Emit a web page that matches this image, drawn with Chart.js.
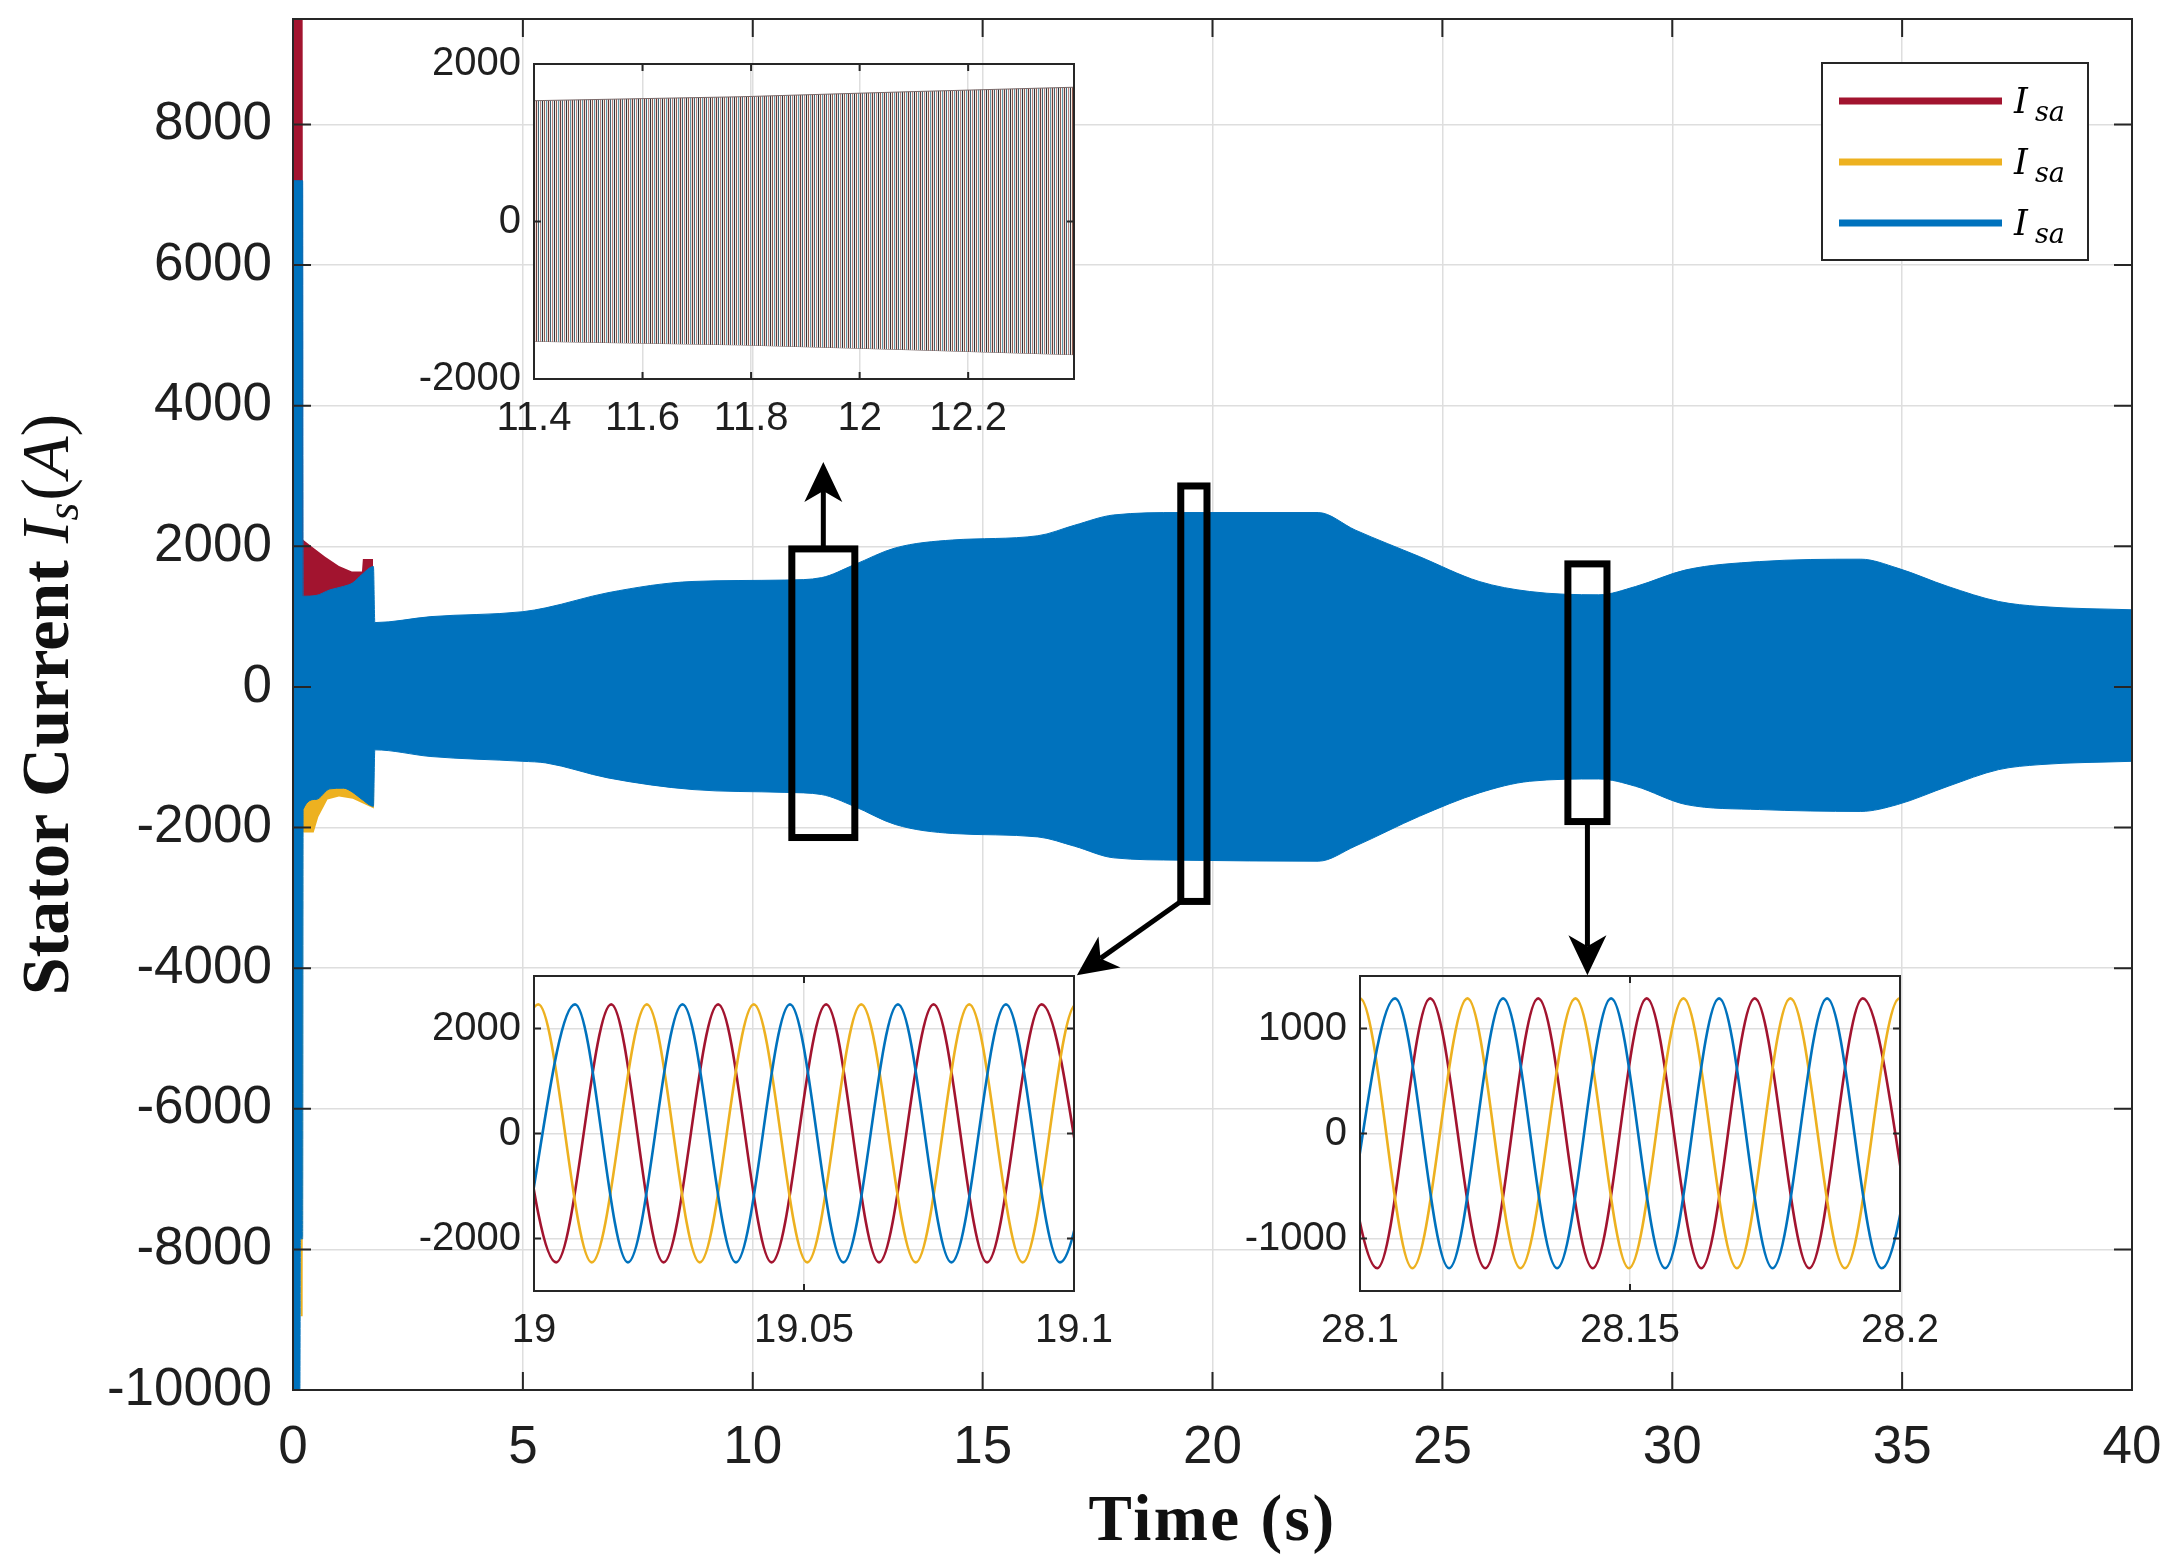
<!DOCTYPE html>
<html>
<head>
<meta charset="utf-8">
<script src="https://cdn.jsdelivr.net/npm/chart.js@4.4.1/dist/chart.umd.min.js"></script>
<style>
  html, body { margin: 0; padding: 0; background: #fff; }
  #wrap { position: relative; width: 2178px; height: 1566px; }
  canvas { position: absolute; }
</style>
</head>
<body>
<div id="wrap">
  <canvas id="mainChart" width="2178" height="1566" style="left:0;top:0"></canvas>
  <canvas id="zoomTop"></canvas>
  <canvas id="zoomMid"></canvas>
  <canvas id="zoomRight"></canvas>
</div>
<script>
// ---- main plot: envelope of the three phase currents (time in s, current in A)
const envTime   = [0, 0.15, 0.16, 0.21, 0.22, 0.5, 0.8, 1.1, 1.3, 1.5, 1.75, 1.78, 3, 5, 5.5, 6.85, 8.7, 10.7, 11.5, 12.2, 13.1, 14.35, 16.2, 17.0, 17.85, 19.3, 22.3, 23.1, 24.5, 25.8, 26.9, 28.4, 29.2, 30.3, 31.9, 34.1, 34.9, 36.0, 37.1, 38.0, 40];
const blueUpper = [7200, 7200, 7200, 7200, 1290, 1300, 1380, 1430, 1480, 1600, 1712, 915, 1000, 1070, 1125, 1340, 1500, 1520, 1555, 1736, 1977, 2090, 2150, 2300, 2446, 2480, 2480, 2233, 1854, 1500, 1357, 1310, 1428, 1665, 1783, 1817, 1690, 1428, 1215, 1144, 1097];
const blueLower = [-10000, -10000, -7850, -7850, -1742, -1600, -1450, -1440, -1500, -1600, -1697, -895, -990, -1058, -1081, -1294, -1460, -1500, -1531, -1697, -1957, -2085, -2133, -2266, -2431, -2464, -2479, -2266, -1840, -1508, -1342, -1309, -1413, -1673, -1744, -1771, -1673, -1413, -1176, -1105, -1058];

// parts of the other phases that stick out of the blue one during start-up
const redTime      = [0, 0.21, 0.22, 0.4, 0.7, 1.0, 1.28, 1.5, 1.52, 1.74, 1.75];
const redPeak      = [9500, 9500, 2095, 2000, 1850, 1720, 1640, 1640, 1820, 1820, 0];
const yellowTime   = [0.16, 0.21, 0.22, 0.45, 0.55, 0.75, 1.0, 1.3, 1.5, 1.76, 1.77];
const yellowTrough = [-8950, -8950, -2070, -2070, -1850, -1600, -1560, -1590, -1650, -1730, 0];

const timeTicks    = [0, 5, 10, 15, 20, 25, 30, 35, 40];
const currentTicks = [-10000, -8000, -6000, -4000, -2000, 0, 2000, 4000, 6000, 8000];

// zoomed windows marked on the main plot [t0, t1, low, high]
const boxT0   = [10.85, 19.31, 27.73];
const boxT1   = [12.22, 19.88, 28.58];
const boxLow  = [-2142, -3051, -1915];
const boxHigh = [1963, 2858, 1750];
// arrows [from t, from A, to t, to A]
const arrowFromT = [11.535, 19.31, 28.155];
const arrowFromV = [1963, -3051, -1915];
const arrowToT   = [11.535, 17.05, 28.155];
const arrowToV   = [3200, -4100, -4100];

// ---- inset 11.4 - 12.4 s (dense band)
const z1Time  = [11.4, 11.78, 12.1, 12.395];
const z1Upper = [1534, 1584, 1650, 1705];
const z1Lower = [-1521, -1567, -1630, -1691];
const z1XTicks = [11.4, 11.6, 11.8, 12, 12.2];
const z1YTicks = [-2000, 0, 2000];

// ---- inset 19 - 19.1 s : peaks / troughs of each phase
const z2RedT = [18.9943, 19.0041, 19.0143, 19.0240, 19.0341, 19.0440, 19.0541, 19.0639, 19.0740, 19.0839, 19.0940, 19.1039];
const z2RedV = [2460, -2455, 2460, -2455, 2460, -2455, 2460, -2455, 2460, -2455, 2460, -2455];
const z2YelT = [18.9907, 19.0008, 19.0107, 19.0209, 19.0307, 19.0407, 19.0506, 19.0606, 19.0707, 19.0806, 19.0905, 19.1004, 19.1105];
const z2YelV = [-2455, 2460, -2455, 2460, -2455, 2460, -2455, 2460, -2455, 2460, -2455, 2460, -2455];
const z2BluT = [18.9975, 19.0076, 19.0174, 19.0275, 19.0374, 19.0474, 19.0573, 19.0674, 19.0773, 19.0874, 19.0974, 19.1073];
const z2BluV = [-2455, 2460, -2455, 2460, -2455, 2460, -2455, 2460, -2455, 2460, -2455, 2460];
const z2XTicks = [19, 19.05, 19.1];
const z2YTicks = [-2000, 0, 2000];

// ---- inset 28.1 - 28.2 s
const z3RedT = [28.0931, 28.1032, 28.1130, 28.1232, 28.1330, 28.1431, 28.1531, 28.1632, 28.1731, 28.1832, 28.1931, 28.2032];
const z3RedV = [1287, -1283, 1287, -1283, 1287, -1283, 1287, -1283, 1287, -1283, 1287, -1283];
const z3YelT = [28.0899, 28.1000, 28.1097, 28.1199, 28.1297, 28.1399, 28.1498, 28.1599, 28.1698, 28.1797, 28.1898, 28.1999, 28.2098];
const z3YelV = [-1283, 1287, -1283, 1287, -1283, 1287, -1283, 1287, -1283, 1287, -1283, 1287, -1283];
const z3BluT = [28.0965, 28.1065, 28.1165, 28.1265, 28.1365, 28.1465, 28.1565, 28.1665, 28.1764, 28.1865, 28.1966, 28.2065];
const z3BluV = [-1283, 1287, -1283, 1287, -1283, 1287, -1283, 1287, -1283, 1287, -1283, 1287];
const z3XTicks = [28.1, 28.15, 28.2];
const z3YTicks = [-1000, 0, 1000];

const RED = '#A2142F', YELLOW = '#EDB120', BLUE = '#0072BD';
const gridColor = '#dedede';
const axisColor = '#262626';
const textColor = '#1f1f1f';
const sansFamily = '"Liberation Sans", Arial, sans-serif';
const serifFamily = '"Liberation Serif", "Times New Roman", serif';
const mathFamily = '"DejaVu Serif", serif';

const pts = (xs, ys) => xs.map((x, i) => ({x: x, y: ys[i]}));

// inward ticks + box, like matlab axes
function axesFrame(xTicks, yTicks, tickLen) {
  return {
    id: 'axesFrame',
    afterDatasetsDraw(chart) {
      const {ctx, chartArea: a, scales: {x, y}} = chart;
      ctx.save();
      ctx.strokeStyle = axisColor;
      ctx.lineWidth = 2;
      ctx.beginPath();
      xTicks.forEach(v => {
        const px = x.getPixelForValue(v);
        ctx.moveTo(px, a.bottom); ctx.lineTo(px, a.bottom - tickLen);
        ctx.moveTo(px, a.top); ctx.lineTo(px, a.top + tickLen);
      });
      yTicks.forEach(v => {
        const py = y.getPixelForValue(v);
        ctx.moveTo(a.left, py); ctx.lineTo(a.left + tickLen, py);
        ctx.moveTo(a.right, py); ctx.lineTo(a.right - tickLen, py);
      });
      ctx.stroke();
      ctx.strokeRect(a.left, a.top, a.right - a.left, a.bottom - a.top);
      ctx.restore();
    }
  };
}

function drawArrow(ctx, x0, y0, x1, y1) {
  const ang = Math.atan2(y1 - y0, x1 - x0);
  const L = 40, W = 19, notch = 11;
  ctx.beginPath();
  ctx.moveTo(x0, y0);
  ctx.lineTo(x1 - (L - notch) * Math.cos(ang), y1 - (L - notch) * Math.sin(ang));
  ctx.stroke();
  ctx.save();
  ctx.translate(x1, y1);
  ctx.rotate(ang);
  ctx.beginPath();
  ctx.moveTo(0, 0);
  ctx.lineTo(-L, -W);
  ctx.lineTo(-L + notch, 0);
  ctx.lineTo(-L, W);
  ctx.closePath();
  ctx.fill();
  ctx.restore();
}

// draws text pieces with different fonts one after another
function richText(ctx, parts, startX, baseY) {
  let xPos = startX;
  parts.forEach(p => {
    ctx.font = p.f;
    ctx.fillText(p.t, xPos, baseY + (p.dy || 0));
    xPos += ctx.measureText(p.t).width + (p.sp || 0);
  });
}
function richWidth(ctx, parts) {
  let w = 0;
  parts.forEach(p => { ctx.font = p.f; w += ctx.measureText(p.t).width + (p.sp || 0); });
  return w;
}

const annotations = {
  id: 'annotations',
  afterDraw(chart) {
    const {ctx, chartArea: a, scales: {x, y}} = chart;
    ctx.save();
    // zoom windows
    ctx.strokeStyle = '#000';
    ctx.lineWidth = 7;
    for (let i = 0; i < boxT0.length; i++) {
      const l = x.getPixelForValue(boxT0[i]), r = x.getPixelForValue(boxT1[i]);
      const t = y.getPixelForValue(boxHigh[i]), b = y.getPixelForValue(boxLow[i]);
      ctx.strokeRect(l, t, r - l, b - t);
    }
    ctx.lineWidth = 5;
    ctx.fillStyle = '#000';
    for (let i = 0; i < arrowFromT.length; i++) {
      drawArrow(ctx,
        x.getPixelForValue(arrowFromT[i]), y.getPixelForValue(arrowFromV[i]),
        x.getPixelForValue(arrowToT[i]), y.getPixelForValue(arrowToV[i]));
    }

    // legend
    const lx = a.right - 310, ly = a.top + 44, lw = 266, lh = 197;
    ctx.fillStyle = '#fff';
    ctx.fillRect(lx, ly, lw, lh);
    ctx.strokeStyle = axisColor;
    ctx.lineWidth = 2;
    ctx.strokeRect(lx, ly, lw, lh);
    [RED, YELLOW, BLUE].forEach((col, i) => {
      const yy = ly + 38 + i * 61;
      ctx.strokeStyle = col;
      ctx.lineWidth = 7;
      ctx.beginPath();
      ctx.moveTo(lx + 17, yy); ctx.lineTo(lx + 180, yy);
      ctx.stroke();
      ctx.fillStyle = '#000';
      ctx.textBaseline = 'alphabetic';
      ctx.textAlign = 'left';
      ctx.font = 'italic 35px ' + mathFamily;
      ctx.fillText('I', lx + 192, yy + 12);
      ctx.font = 'italic 27px ' + mathFamily;
      ctx.fillText('sa', lx + 213, yy + 20);
    });

    // axis titles
    ctx.fillStyle = '#111';
    ctx.textAlign = 'center';
    ctx.textBaseline = 'alphabetic';
    ctx.letterSpacing = '2.5px';
    ctx.font = 'bold 65px ' + serifFamily;
    ctx.fillText('Time (s)', (a.left + a.right) / 2, a.bottom + 150);
    ctx.letterSpacing = '0px';

    const yParts = [
      {t: 'Stator Current ', f: 'bold 68px ' + serifFamily},
      {t: 'I', f: 'italic 68px ' + serifFamily},
      {t: 's', f: 'italic 46px ' + serifFamily, dy: 10, sp: 2},
      {t: '(', f: '68px ' + serifFamily},
      {t: 'A', f: 'italic 68px ' + serifFamily},
      {t: ')', f: '68px ' + serifFamily}
    ];
    ctx.save();
    ctx.translate(68, (a.top + a.bottom) / 2);
    ctx.rotate(-Math.PI / 2);
    ctx.textAlign = 'left';
    richText(ctx, yParts, -richWidth(ctx, yParts) / 2, 0);
    ctx.restore();
    ctx.restore();
  }
};

const noBorder = 'rgba(0,0,0,0)';

new Chart(document.getElementById('mainChart'), {
  type: 'line',
  data: {
    datasets: [
      {label: 'Isa blue', data: pts(envTime, blueUpper), borderColor: BLUE, backgroundColor: BLUE, borderWidth: 1,
       pointRadius: 0, fill: '+1', cubicInterpolationMode: 'monotone', clip: 0},
      {label: 'Isa blue low', data: pts(envTime, blueLower), borderColor: BLUE, borderWidth: 1,
       pointRadius: 0, fill: false, cubicInterpolationMode: 'monotone', clip: 0},
      {label: 'Isa red', data: pts(redTime, redPeak), borderColor: noBorder, backgroundColor: RED, borderWidth: 0,
       pointRadius: 0, fill: 'origin', clip: 0},
      {label: 'Isa yellow', data: pts(yellowTime, yellowTrough), borderColor: noBorder, backgroundColor: YELLOW, borderWidth: 0,
       pointRadius: 0, fill: 'origin', clip: 0}
    ]
  },
  options: {
    animation: false,
    responsive: false,
    devicePixelRatio: 1,
    events: [],
    layout: {padding: {left: 0, top: 19, right: 46, bottom: 0}},
    plugins: {legend: {display: false}, tooltip: {enabled: false}},
    scales: {
      x: {
        type: 'linear', min: 0, max: 40,
        afterBuildTicks: s => { s.ticks = timeTicks.map(v => ({value: v})); },
        afterFit: s => { s.height = 176; s.paddingLeft = 0; s.paddingRight = 0; },
        grid: {color: gridColor, lineWidth: 1.5, drawTicks: false},
        border: {display: false},
        ticks: {font: {family: sansFamily, size: 53}, color: textColor, padding: 27,
                maxRotation: 0, autoSkip: false, callback: v => String(v)}
      },
      y: {
        type: 'linear', min: -10000, max: 9500,
        afterBuildTicks: s => { s.ticks = currentTicks.map(v => ({value: v})); },
        afterFit: s => { s.width = 293; s.paddingTop = 0; s.paddingBottom = 0; },
        grid: {color: gridColor, lineWidth: 1.5, drawTicks: false},
        border: {display: false},
        ticks: {font: {family: sansFamily, size: 53}, color: textColor, padding: 21,
                autoSkip: false, callback: v => String(v)}
      }
    }
  },
  plugins: [axesFrame(timeTicks, currentTicks, 18), annotations]
});

// ---- insets
function zoomChart(id, box, xMin, xMax, xTicks, yMin, yMax, yTicks, datasets) {
  const m = {l: 130, t: 30, r: 50, b: 70};
  const cv = document.getElementById(id);
  cv.width = box.w + m.l + m.r;
  cv.height = box.h + m.t + m.b;
  cv.style.left = (box.x - m.l) + 'px';
  cv.style.top = (box.y - m.t) + 'px';
  return new Chart(cv, {
    type: 'line',
    data: {datasets: datasets},
    options: {
      animation: false,
      responsive: false,
      devicePixelRatio: 1,
      events: [],
      layout: {padding: {left: 0, top: m.t, right: m.r, bottom: 0}},
      plugins: {legend: {display: false}, tooltip: {enabled: false}},
      scales: {
        x: {
          type: 'linear', min: xMin, max: xMax,
          afterBuildTicks: s => { s.ticks = xTicks.map(v => ({value: v})); },
          afterFit: s => { s.height = m.b; s.paddingLeft = 0; s.paddingRight = 0; },
          grid: {color: gridColor, lineWidth: 1.5, drawTicks: false},
          border: {display: false},
          ticks: {font: {family: sansFamily, size: 40}, color: textColor, padding: 16,
                  maxRotation: 0, autoSkip: false, callback: v => String(v)}
        },
        y: {
          type: 'linear', min: yMin, max: yMax,
          afterBuildTicks: s => { s.ticks = yTicks.map(v => ({value: v})); },
          afterFit: s => { s.width = m.l; s.paddingTop = 0; s.paddingBottom = 0; },
          grid: {color: gridColor, lineWidth: 1.5, drawTicks: false},
          border: {display: false},
          ticks: {font: {family: sansFamily, size: 40}, color: textColor, padding: 13,
                  autoSkip: false, callback: v => String(v)}
        }
      }
    },
    plugins: [axesFrame(xTicks, yTicks, 7)]
  });
}

function phase(label, t, v, col) {
  return {label: label, data: pts(t, v), borderColor: col, borderWidth: 2.6, pointRadius: 0,
          fill: false, cubicInterpolationMode: 'monotone', clip: 0};
}

// thin washed-out stripes, imitating many overlapping 50 Hz cycles
function densePattern(ctx) {
  const cols = ['#6e3c3a', '#efe2dc', '#3f6675', '#fbfbfb', '#b8817c', '#dcefF2',
                '#2f3640', '#f4eadf', '#8f5a50', '#f8f8f8', '#5f98a8', '#eadbd6'];
  const c = document.createElement('canvas');
  c.width = cols.length; c.height = 2;
  const g = c.getContext('2d');
  cols.forEach((col, i) => { g.fillStyle = col; g.fillRect(i, 0, 1, 2); });
  return ctx.createPattern(c, 'repeat');
}

const topCtx = document.getElementById('zoomTop').getContext('2d');
zoomChart('zoomTop', {x: 534, y: 64, w: 540, h: 315}, 11.4, 12.395, z1XTicks, -2000, 2000, z1YTicks, [
  {label: 'band top', data: pts(z1Time, z1Upper), borderColor: '#7a6a6a', borderWidth: 1, pointRadius: 0,
   backgroundColor: densePattern(topCtx), fill: '+1', clip: 0},
  {label: 'band bottom', data: pts(z1Time, z1Lower), borderColor: '#7a6a6a', borderWidth: 1, pointRadius: 0,
   fill: false, clip: 0}
]);

zoomChart('zoomMid', {x: 534, y: 976, w: 540, h: 315}, 19, 19.1, z2XTicks, -3000, 3000, z2YTicks, [
  phase('Isa blue', z2BluT, z2BluV, BLUE),
  phase('Isa yellow', z2YelT, z2YelV, YELLOW),
  phase('Isa red', z2RedT, z2RedV, RED)
]);

zoomChart('zoomRight', {x: 1360, y: 976, w: 540, h: 315}, 28.1, 28.2, z3XTicks, -1500, 1500, z3YTicks, [
  phase('Isa blue', z3BluT, z3BluV, BLUE),
  phase('Isa yellow', z3YelT, z3YelV, YELLOW),
  phase('Isa red', z3RedT, z3RedV, RED)
]);
</script>
</body>
</html>
